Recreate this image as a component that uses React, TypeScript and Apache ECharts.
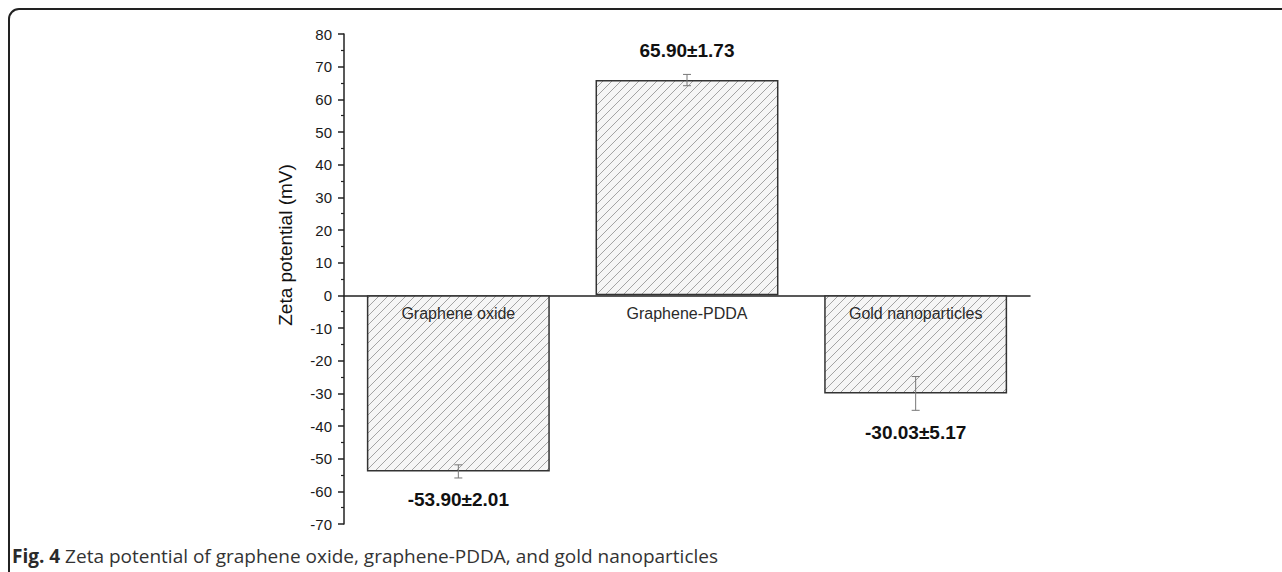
import React, { useEffect, useRef } from "react";
import * as echarts from "echarts";

const categories = ["Graphene oxide", "Graphene-PDDA", "Gold nanoparticles"];
const means = [-53.9, 65.9, -30.03];
const errors = [2.01, 1.73, 5.17];
const valueLabels = ["-53.90±2.01", "65.90±1.73", "-30.03±5.17"];
const yName = "Zeta potential (mV)";
const captionBold = "Fig. 4";
const captionText = " Zeta potential of graphene oxide, graphene-PDDA, and gold nanoparticles";

function makeHatch(): HTMLCanvasElement {
  const c = document.createElement("canvas");
  const s = 9;
  c.width = s;
  c.height = s;
  const ctx = c.getContext("2d")!;
  ctx.fillStyle = "#f5f5f5";
  ctx.fillRect(0, 0, s, s);
  ctx.strokeStyle = "#9a9a9a";
  ctx.lineWidth = 0.9;
  ctx.beginPath();
  ctx.moveTo(0, s);
  ctx.lineTo(s, 0);
  ctx.moveTo(-1, 1);
  ctx.lineTo(1, -1);
  ctx.moveTo(s - 1, s + 1);
  ctx.lineTo(s + 1, s - 1);
  ctx.stroke();
  return c;
}

export default function App() {
  const ref = useRef<HTMLDivElement>(null);
  useEffect(() => {
    document.body.style.margin = "0";
    const chart = echarts.init(ref.current!, null, { renderer: "svg" });
    const hatch = makeHatch();
    const font = "'Liberation Sans', Arial, sans-serif";
    chart.setOption({
      animation: false,
      backgroundColor: "#ffffff",
      grid: { left: 344, right: 252, top: 34, bottom: 48, containLabel: false },
      xAxis: {
        type: "category",
        data: categories,
        axisLine: { onZero: true, lineStyle: { color: "#222", width: 1.5 } },
        axisTick: { show: false },
        axisLabel: { show: false },
        splitLine: { show: false },
      },
      yAxis: {
        type: "value",
        min: -70,
        max: 80,
        interval: 10,
        axisLine: { show: true, lineStyle: { color: "#222", width: 1.5 } },
        axisTick: { show: true, length: 6, lineStyle: { color: "#222", width: 1.5 } },
        minorTick: { show: true, splitNumber: 2, length: 3, lineStyle: { color: "#222", width: 1.2 } },
        axisLabel: { margin: 12, fontSize: 15, color: "#1a1a1a", fontFamily: font },
        splitLine: { show: false },
      },
      series: [
        {
          type: "bar",
          data: means,
          barWidth: "80%",
          itemStyle: {
            color: { image: hatch, repeat: "repeat" },
            borderColor: "#333",
            borderWidth: 1.5,
          },
        },
        {
          type: "custom",
          data: means.map((m, i) => [i, m, errors[i]]),
          encode: { x: 0, y: 1 },
          z: 5,
          renderItem: (params: any, api: any) => {
            const i = api.value(0);
            const m = api.value(1);
            const e = api.value(2);
            const top = api.coord([i, m + e]);
            const bot = api.coord([i, m - e]);
            const zero = api.coord([i, 0]);
            const cx = top[0];
            const hw = 4;
            const pos = m >= 0;
            const labelY = pos ? top[1] - 24 : bot[1] + 22;
            const ls = { stroke: "#777", lineWidth: 1 };
            return {
              type: "group",
              children: [
                { type: "line", shape: { x1: cx, y1: top[1], x2: cx, y2: bot[1] }, style: ls },
                { type: "line", shape: { x1: cx - hw, y1: top[1], x2: cx + hw, y2: top[1] }, style: ls },
                { type: "line", shape: { x1: cx - hw, y1: bot[1], x2: cx + hw, y2: bot[1] }, style: ls },
                {
                  type: "text",
                  x: cx,
                  y: zero[1] + 18,
                  style: {
                    text: categories[params.dataIndex],
                    fontSize: 16,
                    fontFamily: font,
                    fill: "#2a2a2a",
                    align: "center",
                    verticalAlign: "middle",
                  },
                },
                {
                  type: "text",
                  x: cx,
                  y: labelY,
                  style: {
                    text: valueLabels[params.dataIndex],
                    fontSize: 19,
                    fontWeight: "bold",
                    fontFamily: font,
                    fill: "#111",
                    align: "center",
                    verticalAlign: "middle",
                  },
                },
              ],
            };
          },
        },
      ],
      graphic: [
        {
          type: "rect",
          shape: { x: 9, y: 9, width: 1400, height: 700, r: 10 },
          style: { fill: "none", stroke: "#222", lineWidth: 2 },
          silent: true,
        },
        {
          type: "text",
          x: 285,
          y: 245,
          rotation: Math.PI / 2,
          style: {
            text: yName,
            fontSize: 19,
            fontFamily: font,
            fill: "#111",
            align: "center",
            verticalAlign: "middle",
          },
        },
        {
          type: "text",
          x: 12,
          y: 556,
          style: {
            text: "{b|" + captionBold + "}{n|" + captionText + "}",
            verticalAlign: "middle",
            rich: {
              b: { fontSize: 19, fontWeight: "bold", fontFamily: "'Open Sans', sans-serif", fill: "#2a2a2a" },
              n: { fontSize: 19, fontFamily: "'Open Sans', sans-serif", fill: "#333" },
            },
          },
        },
      ],
    });
    return () => chart.dispose();
  }, []);
  return <div ref={ref} style={{ width: 1282, height: 572 }} />;
}
